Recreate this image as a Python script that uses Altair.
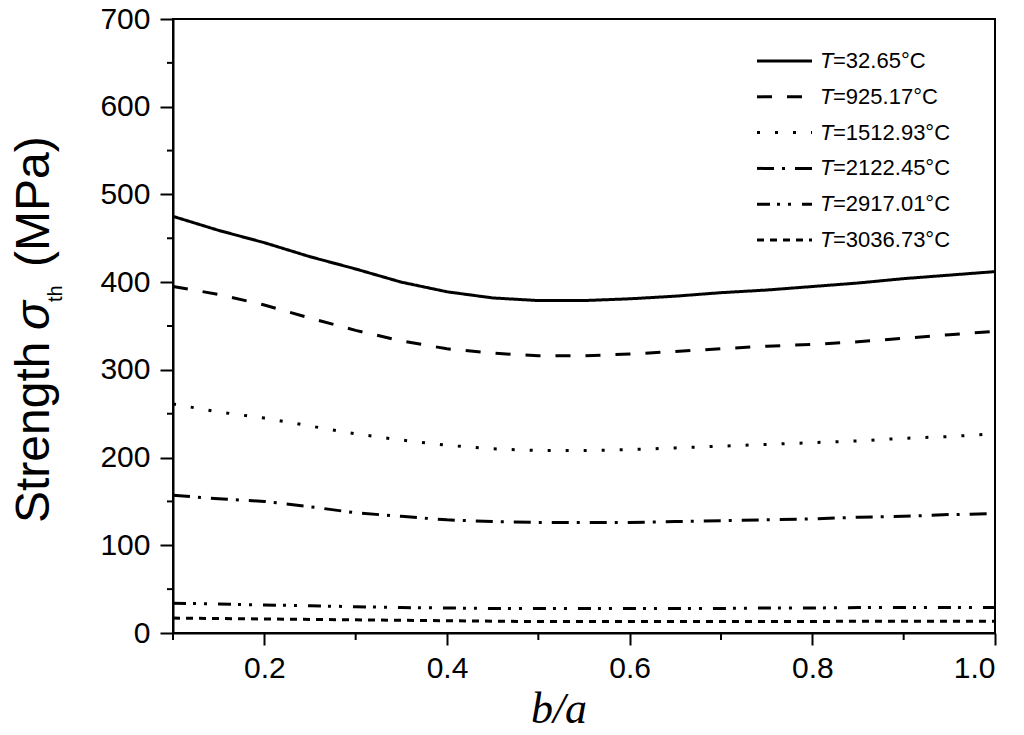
import altair as alt
import pandas as pd

# ---- data ----
ba = [0.1, 0.15, 0.2, 0.25, 0.3, 0.35, 0.4, 0.45, 0.5, 0.55,
      0.6, 0.65, 0.7, 0.75, 0.8, 0.85, 0.9, 0.95, 1.0]
temps = ["32.65", "925.17", "1512.93", "2122.45", "2917.01", "3036.73"]
s_t1 = [475, 459, 445, 429, 415, 400, 389, 382, 379, 379, 381, 384, 388, 391, 395, 399, 404, 408, 412]
s_t2 = [395, 386, 374, 359, 345, 333, 324, 319, 316, 316, 318, 321, 324, 327, 329, 332, 336, 340, 344]
s_t3 = [261, 252, 245, 236, 227, 220, 214, 210, 208, 208, 209, 211, 213, 215, 217, 219, 222, 224, 227]
s_t4 = [157, 153, 150, 144, 137, 133, 129, 127, 126, 126, 126, 127, 128, 129, 130, 132, 133, 135, 136]
s_t5 = [34, 33, 32, 31, 30, 29, 28.5, 28, 28, 28, 28, 28, 28, 28.5, 28.5, 29, 29, 29, 29]
s_t6 = [17, 16.5, 16, 15.5, 15, 14.5, 14, 13.5, 13, 13, 13, 13, 13, 13, 13, 13.5, 13.5, 13.5, 13.5]
series = [s_t1, s_t2, s_t3, s_t4, s_t5, s_t6]

x_major = [0.2, 0.4, 0.6, 0.8, 1.0]
x_minor = [0.1, 0.3, 0.5, 0.7, 0.9]
y_major = [0, 100, 200, 300, 400, 500, 600, 700]
y_minor = [50, 150, 250, 350, 450, 550, 650]

dashes = [[1, 0], [15, 15], [3, 15], [17, 8, 3, 10], [13, 7, 3, 8, 3, 11], [7, 6]]

labels = [f"T={t}°C" for t in temps]
rows = []
for lab, vals in zip(labels, series):
    for b, v in zip(ba, vals):
        rows.append({"b": b, "s": v, "series": lab})
df = pd.DataFrame(rows)

W, H = 822, 614
FONT = "Liberation Sans"

dash_scale = alt.Scale(domain=labels, range=dashes)
xs = alt.Scale(domain=[0.1, 1.0], nice=False, zero=False)
ys = alt.Scale(domain=[0, 700], nice=False, zero=False)
x_axis = alt.Axis(values=x_major, format=".1f", tickSize=12, labelPadding=8, title="")

lines = alt.Chart(df).mark_line(color="black", strokeWidth=3).encode(
    x=alt.X("b:Q", scale=xs, axis=x_axis),
    y=alt.Y("s:Q", scale=ys,
            axis=alt.Axis(values=y_major, tickSize=13, labelPadding=10, title="")),
    strokeDash=alt.StrokeDash("series:N", scale=dash_scale, legend=None),
)

xminor = alt.Chart(pd.DataFrame({"b": x_minor})).mark_rule(color="black", strokeWidth=2).encode(
    x=alt.X("b:Q", scale=xs, axis=x_axis), y=alt.value(H), y2=alt.value(H + 7))
yminor = alt.Chart(pd.DataFrame({"v": y_minor})).mark_rule(color="black", strokeWidth=2).encode(
    y=alt.Y("v:Q", scale=ys, axis=None), x=alt.value(0), x2=alt.value(-6))

# ---- manual legend ----
leg = pd.DataFrame({"row": list(range(6)), "series": labels,
                    "rest": [f"={t}°C" for t in temps]})
leg_y = alt.Y("row:Q", scale=alt.Scale(domain=[0, 5], range=[42, 221]), axis=None)
leg_lines = alt.Chart(leg).mark_rule(color="black", strokeWidth=3).encode(
    x=alt.value(584), x2=alt.value(639), y=leg_y,
    strokeDash=alt.StrokeDash("series:N", scale=dash_scale, legend=None))
leg_T = alt.Chart(leg).mark_text(text="T", font=FONT, fontStyle="italic", fontSize=22,
                                 align="left", baseline="middle", color="black").encode(
    x=alt.value(647), y=leg_y)
leg_txt = alt.Chart(leg).mark_text(font=FONT, fontSize=22, align="left", baseline="middle",
                                   color="black").encode(
    x=alt.value(660), y=leg_y, text="rest:N")


def txt(s, x, y, size, style="normal", angle=270, font=FONT, align="left"):
    return alt.Chart(pd.DataFrame({"t": [s]})).mark_text(
        font=font, fontSize=size, fontStyle=style, angle=angle, align=align,
        baseline="alphabetic", color="black").encode(
        x=alt.value(x), y=alt.value(y), text="t:N")


t_strength = txt("Strength", -124, 504, 48)
t_sigma = txt("σ", -124, 311, 48, style="italic")
t_th = txt("th", -111, 283, 20)
t_mpa = txt("(MPa)", -124, 248, 48)
t_x = txt("b/a", 386, 704, 44, style="italic", angle=0, font="Liberation Serif", align="center")

chart = alt.layer(
    lines, xminor, yminor, leg_lines, leg_T, leg_txt,
    t_strength, t_sigma, t_th, t_mpa, t_x
).resolve_scale(y="independent").properties(
    width=W, height=H,
    autosize=alt.AutoSizeParams(type="none"),
    padding={"left": 165, "top": 11, "right": 10, "bottom": 90},
    background="white",
).configure_view(stroke="black", strokeWidth=2).configure_axis(
    labelFont=FONT, labelFontSize=30, labelColor="black",
    domainColor="black", domainWidth=2, tickColor="black", tickWidth=2, grid=False,
)

chart.save("out.html", embed_options={"renderer": "svg", "actions": False})
